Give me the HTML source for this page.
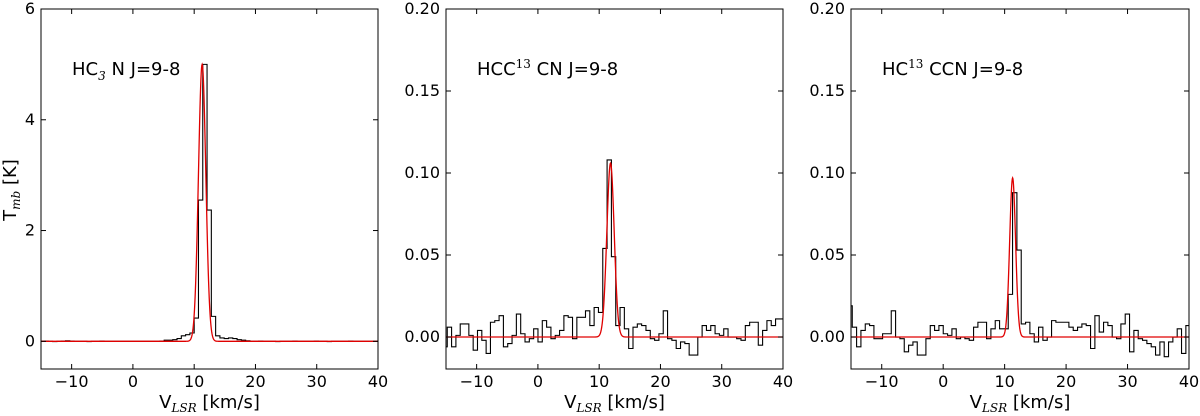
<!DOCTYPE html>
<html><head><meta charset="utf-8"><style>
html,body{margin:0;padding:0;background:#fff;}
svg{display:block;font-family:"DejaVu Sans","Liberation Sans",sans-serif;}
</style></head><body>
<svg id="fig" width="1200" height="416" viewBox="0 0 1200 416"></svg>
<script>
// ---- data ----
const xTicks = [-10, 0, 10, 20, 30, 40];
const xTickLabels = ["\u221210", "0", "10", "20", "30", "40"];
const yTicks1 = [0, 2, 4, 6];
const yTickLabels1 = ["0", "2", "4", "6"];
const yTicks23 = [0, 0.05, 0.10, 0.15, 0.20];
const yTickLabels23 = ["0.00", "0.05", "0.10", "0.15", "0.20"];

const chanStart1 = -15.2, chanWidth1 = 0.7;
const spec1 = [0,0.005,0,-0.005,0,0.005,0.01,0.005,0,0,0,-0.005,0,0,0.005,0,0,0,0,0,0,0,0,0,0,0,0,0,0.005,0.02,0.02,0.03,0.05,0.1,0.12,0.15,0.42,2.55,5.0,2.37,0.45,0.1,0.06,0.05,0.06,0.05,0.03,0.02,0.01,0,0,0.005,0,0,0,-0.005,0,0,0,0.005,0,0,0,0,0.005,0,0,-0.005,0,0,0,0,0.005,0,0,0,0,0,0];
const chanStart2 = -15.5, chanWidth2 = 0.705;
const spec2 = [-0.006,0.006,-0.006,0.001,0.008,0.008,0.001,-0.008,0.004,-0.002,-0.01,0.009,0.01,0.013,-0.006,-0.004,0.001,0.014,0.002,-0.003,-0.001,0.005,-0.003,0.01,0.006,-0.001,0.001,0.004,0.013,0.012,-0.001,0.012,0.012,0.016,0.007,0.018,0.015,0.054,0.108,0.049,0.007,0.018,0.005,-0.007,0.006,0.008,0.007,0.004,-0.001,-0.002,0.002,0.016,-0.001,-0.002,-0.007,-0.003,-0.004,-0.011,-0.011,0.0,0.007,0.004,0.007,0.002,0.001,0.005,0.0,0.0,-0.001,-0.002,0.007,0.009,0.009,-0.005,0.004,0.01,0.007,0.011,0.011,0.088];
const chanStart3 = -15.5, chanWidth3 = 0.705;
const spec3 = [0.019,0.006,-0.006,0.004,0.008,0.007,-0.001,-0.001,0.002,0.002,0.016,0.0,-0.001,-0.009,-0.005,-0.003,-0.011,-0.011,-0.001,0.007,0.004,0.007,0.002,0.001,0.005,-0.001,0.0,-0.001,-0.002,0.006,0.009,0.009,-0.001,0.005,0.01,0.005,0.005,0.026,0.088,0.053,0.008,0.009,0.002,-0.003,0.006,-0.002,0.0,0.01,0.009,0.009,0.009,0.006,0.004,0.006,0.008,0.007,-0.007,0.013,0.003,0.009,0.007,0.0,-0.001,0.008,0.014,-0.009,0.004,-0.001,-0.002,-0.004,-0.006,-0.011,-0.003,-0.012,-0.003,0.0,0.005,-0.01,0.007,0.018];
// gaussian fit parameters [amplitude, centre, sigma]
const fit1 = [5.0, 11.3, 0.6];
const fit2 = [0.106, 11.85, 0.6];
const fit3 = [0.097, 11.3, 0.48];

const NS = "http://www.w3.org/2000/svg";
const svg = document.getElementById('fig');
function mk(tag, attrs, parent){const e=document.createElementNS(NS,tag);for(const k in attrs)e.setAttribute(k,attrs[k]);(parent||svg).appendChild(e);return e;}

const Y0 = 9, Y1 = 369;
function panel(id, px0, px1, ymin, ymax, yT, yL, start, width, spec, fit, labelParts){
  const sx = v => px0 + (v + 15) / 55 * (px1 - px0);
  const sy = v => Y1 - (v - ymin) / (ymax - ymin) * (Y1 - Y0);
  const g = mk('g', {});
  
  
  const cp = mk('clipPath', {id: 'clip' + id}, g);
  mk('rect', {x: px0, y: Y0, width: px1 - px0, height: Y1 - Y0}, cp);
  let d = '';
  for (let i = 0; i < spec.length; i++) {
    const xa = sx(start + i * width), xb = sx(start + (i + 1) * width), y = sy(spec[i]);
    d += (i === 0 ? 'M' : 'L') + xa.toFixed(2) + ',' + y.toFixed(2) + 'L' + xb.toFixed(2) + ',' + y.toFixed(2);
  }
  const st = mk('path', {d: d, fill: 'none', stroke: '#000', 'stroke-width': 1.1, 'clip-path': 'url(#clip' + id + ')'}, g);
  
  
  let f = '';
  for (let k = 0; k <= 1100; k++) {
    const v = -15 + k * 0.05;
    const t = fit[0] * Math.exp(-0.5 * Math.pow((v - fit[1]) / fit[2], 2));
    f += (k === 0 ? 'M' : 'L') + sx(v).toFixed(2) + ',' + sy(t).toFixed(2);
  }
  const fp = mk('path', {d: f, fill: 'none', stroke: '#e00000', 'stroke-width': 1.3, 'clip-path': 'url(#clip' + id + ')'}, g);
  
  
  const fr = mk('rect', {x: px0, y: Y0, width: px1 - px0, height: Y1 - Y0, fill: 'none', stroke: '#000', 'stroke-width': 1}, g);
  
  
  xTicks.forEach((v, i) => {
    const x = sx(v);
    mk('line', {x1: x, y1: Y1, x2: x, y2: Y1 - 5, stroke: '#000'}, g);
    mk('line', {x1: x, y1: Y0, x2: x, y2: Y0 + 5, stroke: '#000'}, g);
    const t = mk('text', {x: x, y: Y1 + 18, 'font-size': 16, 'text-anchor': 'middle'}, g);
    t.textContent = xTickLabels[i];
    
    
  });
  yT.forEach((v, i) => {
    const y = sy(v);
    mk('line', {x1: px0, y1: y, x2: px0 + 5, y2: y, stroke: '#000'}, g);
    mk('line', {x1: px1, y1: y, x2: px1 - 5, y2: y, stroke: '#000'}, g);
    const t = mk('text', {x: px0 - 6, y: y + 5, 'font-size': 16, 'text-anchor': 'end'}, g);
    t.textContent = yL[i];
    
    
  });
  const xl = mk('text', {x: (px0 + px1) / 2, y: 408, 'font-size': 18, 'text-anchor': 'middle'}, g);
  xl.innerHTML = 'V<tspan font-family="DejaVu Serif, Liberation Serif, serif" font-style="italic" font-size="12" dy="4">LSR</tspan><tspan dy="-4"> [km/s]</tspan>';
  
  
  const ll = mk('text', {x: px0 + 31, y: 75, 'font-size': 18}, g);
  ll.innerHTML = labelParts;
  
  
}

panel('hc3n', 41, 378, -0.5, 6, yTicks1, yTickLabels1, chanStart1, chanWidth1, spec1, fit1,
  'HC<tspan font-size="12" dy="5" font-style="italic" font-family="DejaVu Serif, serif">3</tspan><tspan dy="-5"> N J=9-8</tspan>');
panel('hcc13cn', 446, 783, -0.0195, 0.2, yTicks23, yTickLabels23, chanStart2, chanWidth2, spec2, fit2,
  'HCC<tspan font-size="12" dy="-7" font-family="DejaVu Serif, serif">13</tspan><tspan dy="7"> CN J=9-8</tspan>');
panel('hc13ccn', 851, 1189, -0.0195, 0.2, yTicks23, yTickLabels23, chanStart3, chanWidth3, spec3, fit3,
  'HC<tspan font-size="12" dy="-7" font-family="DejaVu Serif, serif">13</tspan><tspan dy="7"> CCN J=9-8</tspan>');

const yl = mk('text', {x: 0, y: 0, 'font-size': 18, 'text-anchor': 'middle', transform: 'translate(16,190) rotate(-90)'});
yl.innerHTML = 'T<tspan font-family="DejaVu Serif, serif" font-style="italic" font-size="12" dy="4">mb</tspan><tspan dy="-4"> [K]</tspan>';


</script>
</body></html>
